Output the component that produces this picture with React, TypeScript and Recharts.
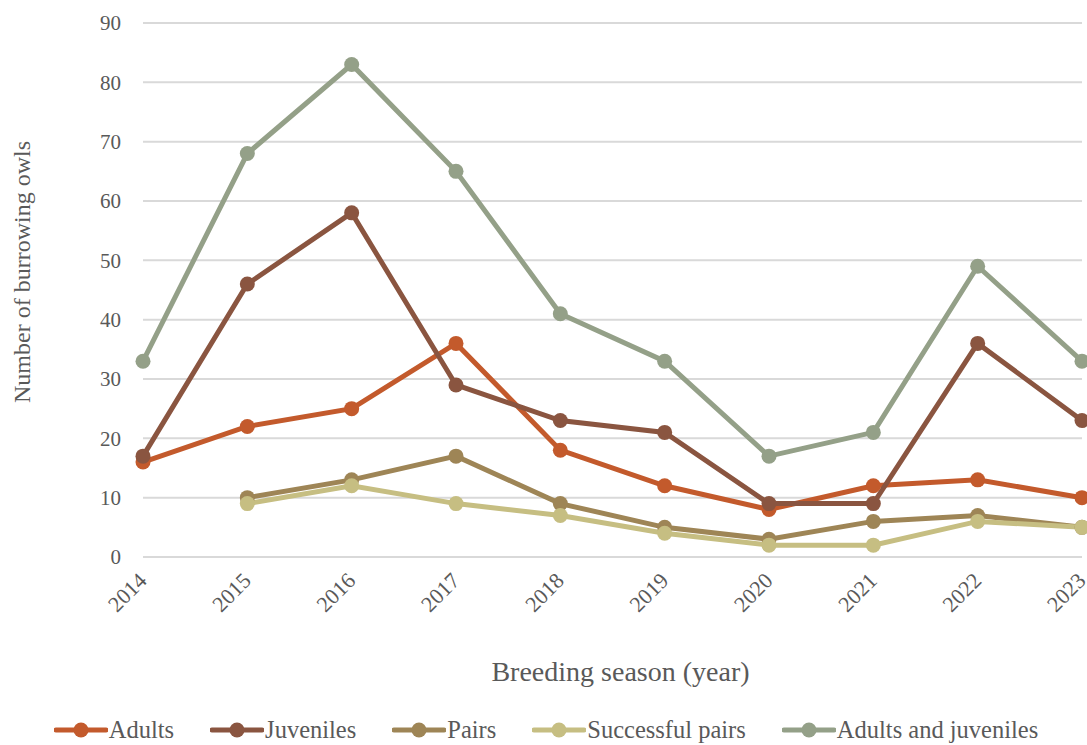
import { LineChart, Line, XAxis, YAxis, CartesianGrid, Legend } from "recharts"

const years = ["2014", "2015", "2016", "2017", "2018", "2019", "2020", "2021", "2022", "2023"]
const adults = [16, 22, 25, 36, 18, 12, 8, 12, 13, 10]
const juveniles = [17, 46, 58, 29, 23, 21, 9, 9, 36, 23]
const pairs = [null, 10, 13, 17, 9, 5, 3, 6, 7, 5]
const successfulPairs = [null, 9, 12, 9, 7, 4, 2, 2, 6, 5]
const adultsAndJuveniles = [33, 68, 83, 65, 41, 33, 17, 21, 49, 33]
const yTicks = [0, 10, 20, 30, 40, 50, 60, 70, 80, 90]

const series = [
  { key: "adults", name: "Adults", color: "#C35A2C" },
  { key: "juveniles", name: "Juveniles", color: "#8A5540" },
  { key: "pairs", name: "Pairs", color: "#9E8556" },
  { key: "successful", name: "Successful pairs", color: "#C6BE82" },
  { key: "both", name: "Adults and juveniles", color: "#94A088" },
]

const data = years.map((year, i) => ({
  year,
  adults: adults[i],
  juveniles: juveniles[i],
  pairs: pairs[i],
  successful: successfulPairs[i],
  both: adultsAndJuveniles[i],
}))

const FONT = '"Liberation Serif", "Times New Roman", serif'
const TEXT = "#595959"

function LegendContent() {
  return (
    <div
      style={{
        display: "flex",
        justifyContent: "center",
        alignItems: "center",
        height: 30,
        fontFamily: FONT,
        fontSize: 24.5,
        color: TEXT,
        paddingLeft: 10,
      }}
    >
      {series.map((s) => (
        <div key={s.key} style={{ display: "flex", alignItems: "center", margin: "0 18px" }}>
          <svg width={54} height={16} style={{ marginRight: 1 }}>
            <line x1={2} y1={8} x2={52} y2={8} stroke={s.color} strokeWidth={5} strokeLinecap="round" />
            <circle cx={27} cy={8} r={7.5} fill={s.color} />
          </svg>
          <span>{s.name}</span>
        </div>
      ))}
    </div>
  )
}

function YLabel({ viewBox }: any) {
  const cy = viewBox.y + viewBox.height / 2 - 18
  return (
    <text
      x={22}
      y={cy}
      transform={`rotate(-90 22 ${cy})`}
      textAnchor="middle"
      dominantBaseline="central"
      fill={TEXT}
      fontFamily={FONT}
      fontSize={24}
    >
      Number of burrowing owls
    </text>
  )
}

export default function App() {
  return (
    <div style={{ position: "absolute", left: 0, top: 0, background: "#fff" }}>
      <LineChart
        width={1087}
        height={745}
        data={data}
        margin={{ top: 23, right: 5, bottom: 0, left: 0 }}
      >
        <CartesianGrid vertical={false} stroke="#D9D9D9" strokeWidth={2} />
        <XAxis
          dataKey="year"
          axisLine={false}
          tickLine={false}
          interval={0}
          height={158}
          tickMargin={8}
          angle={-45}
          textAnchor="end"
          tick={{ fill: TEXT, fontSize: 22, fontFamily: FONT, dx: -6 }}
          label={{
            value: "Breeding season (year)",
            position: "insideBottom",
            offset: 34,
            dx: 8,
            fill: TEXT,
            fontSize: 28,
            fontFamily: FONT,
          }}
        />
        <YAxis
          width={143}
          domain={[0, 90]}
          ticks={yTicks}
          axisLine={false}
          tickLine={false}
          tickMargin={16}
          tick={{ fill: TEXT, fontSize: 21, fontFamily: FONT }}
          label={<YLabel />}
        />
        <Legend verticalAlign="bottom" height={30} content={<LegendContent />} />
        {series.map((s) => (
          <Line
            key={s.key}
            type="linear"
            dataKey={s.key}
            name={s.name}
            stroke={s.color}
            strokeWidth={5}
            dot={{ r: 7.5, fill: s.color, stroke: "none" }}
            activeDot={false}
            isAnimationActive={false}
          />
        ))}
      </LineChart>
    </div>
  )
}
